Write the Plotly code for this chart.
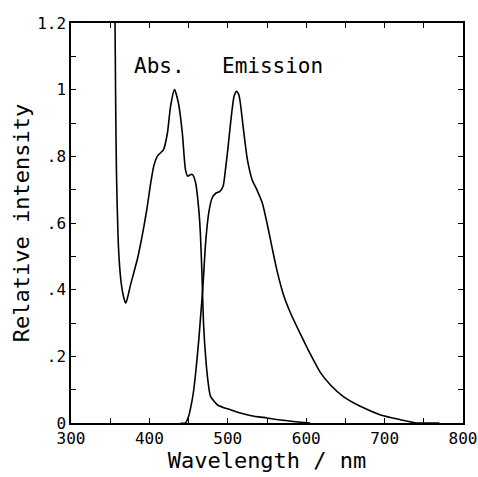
import plotly.graph_objects as go

# Absorption spectrum (wavelength nm, relative intensity)
abs_wl = [356, 357, 358, 360, 362, 364, 366, 368, 370, 372, 376, 380, 385, 389, 393, 397,
          402, 406, 410, 414, 418, 423, 427, 432, 437, 442, 446, 449, 452, 455, 459,
          463, 465, 467, 469, 472, 475, 478, 487, 495, 503, 516, 530, 550, 570, 590, 605]
abs_val = [1.25, 0.95, 0.75, 0.56, 0.47, 0.42, 0.39, 0.37, 0.36, 0.375, 0.415, 0.45, 0.495, 0.54, 0.59, 0.645,
           0.725, 0.775, 0.80, 0.81, 0.82, 0.87, 0.95, 1.0, 0.96, 0.87, 0.76, 0.74, 0.745, 0.745, 0.72,
           0.64, 0.57, 0.45, 0.30, 0.19, 0.12, 0.08, 0.054, 0.046, 0.04, 0.03, 0.022, 0.015, 0.008, 0.003, 0.0]

# Emission spectrum
em_wl = [440, 446, 450, 453, 456, 459, 463, 466, 468, 472, 476, 480, 485, 490, 494, 497, 500,
         504, 508, 511, 514, 516, 520, 525, 531, 537, 544, 550, 557, 563, 571,
         580, 593, 605, 618, 631, 647, 669, 694, 720, 741, 760, 770]
em_val = [0.0, 0.0, 0.02, 0.05, 0.09, 0.15, 0.25, 0.34, 0.40, 0.55, 0.635, 0.675, 0.69, 0.695, 0.71, 0.76, 0.82,
          0.91, 0.98, 0.995, 0.985, 0.96, 0.88, 0.79, 0.73, 0.70, 0.66, 0.60, 0.52, 0.455, 0.385,
          0.33, 0.265, 0.208, 0.152, 0.114, 0.08, 0.05, 0.025, 0.01, 0.0, 0.0, 0.0]

x_ticks = [300, 400, 500, 600, 700, 800]
x_labels = ["300", "400", "500", "600", "700", "800"]
y_ticks = [0, 0.2, 0.4, 0.6, 0.8, 1.0, 1.2]
y_labels = ["0", ".2", ".4", ".6", ".8", "1", "1.2"]

FONT = "DejaVu Sans Mono"

fig = go.Figure()
fig.add_trace(go.Scatter(x=abs_wl, y=abs_val, mode="lines",
                         line=dict(color="black", width=1.6, shape="spline", smoothing=0.6),
                         showlegend=False))
fig.add_trace(go.Scatter(x=em_wl, y=em_val, mode="lines",
                         line=dict(color="black", width=1.6, shape="spline", smoothing=0.6),
                         showlegend=False))

fig.add_annotation(x=413, y=1.07, text="Abs.", showarrow=False, xanchor="center",
                   yanchor="middle", font=dict(family=FONT, size=21, color="black"))
fig.add_annotation(x=557, y=1.07, text="Emission", showarrow=False, xanchor="center",
                   yanchor="middle", font=dict(family=FONT, size=21, color="black"))

axis_common = dict(showgrid=False, zeroline=False, showline=True, linecolor="black",
                   linewidth=1.5, mirror="ticks", ticks="inside", ticklen=5,
                   tickcolor="black", tickwidth=1.2, automargin=False,
                   ticklabeloverflow="allow",
                   tickfont=dict(family=FONT, size=16, color="black"))

fig.update_xaxes(range=[300, 800], tickvals=x_ticks, ticktext=x_labels,
                 minor=dict(dtick=50, ticks="inside", ticklen=5, tickcolor="black", tickwidth=1.2),
                 title=dict(text="Wavelength / nm", font=dict(family=FONT, size=22, color="black"),
                            standoff=4),
                 **axis_common)
fig.update_yaxes(range=[0, 1.2], tickvals=y_ticks, ticktext=y_labels,
                 minor=dict(dtick=0.1, ticks="inside", ticklen=5, tickcolor="black", tickwidth=1.2),
                 title=dict(text="Relative intensity", font=dict(family=FONT, size=22, color="black"),
                            standoff=1),
                 **axis_common)

fig.update_layout(width=478, height=477, margin=dict(l=71, r=15, t=23, b=54),
                  plot_bgcolor="white", paper_bgcolor="white")

# remove the default page margin so the figure fills the window exactly
fig.write_html("out.html", config={"displayModeBar": False},
               post_script="document.body.style.margin='0';document.body.style.overflow='hidden';")
